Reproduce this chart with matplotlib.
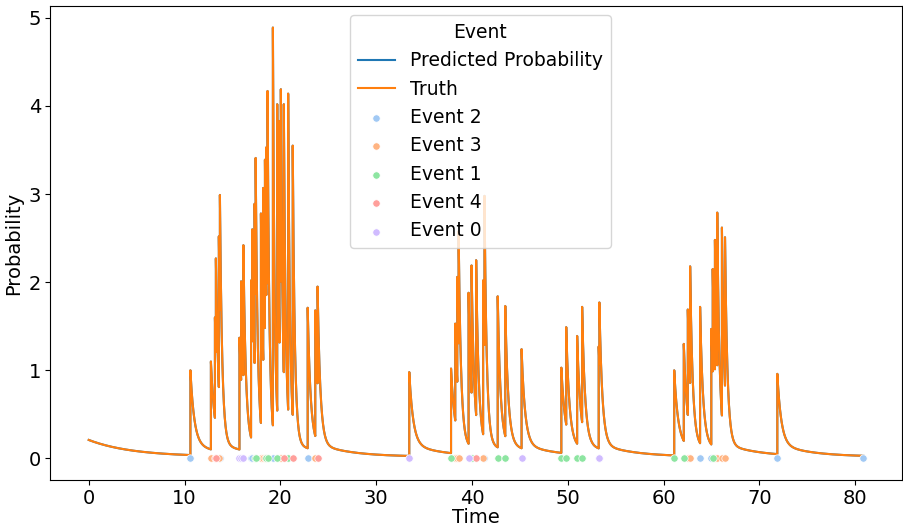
import numpy as np
import matplotlib

matplotlib.use('Agg')
import matplotlib.pyplot as plt
import seaborn as sns

# event times, types and the intensity peak reached right after each event
event_times = [10.61, 12.75, 13.17, 13.27, 13.58, 13.69,
               15.73, 15.90, 16.14, 16.94, 17.07, 17.31, 17.42, 17.97, 18.21, 18.39, 18.53, 18.66,
               19.22, 19.67, 19.91, 20.05, 20.36, 20.81, 21.29, 22.85, 23.64, 23.88,
               33.45, 37.81, 38.25, 38.46, 38.60, 39.64, 39.95, 40.43, 41.16, 41.30, 42.68, 43.47, 45.17,
               49.32, 49.83, 50.97, 51.49, 53.22, 53.29,
               61.10, 62.10, 62.52, 62.76, 63.80, 64.97, 65.12, 65.35, 65.59, 66.08, 66.40,
               71.86, 80.83]
event_types = [2, 3, 4, 4, 3, 2,
               0, 0, 0, 2, 2, 1, 1, 3, 3, 3, 1, 1,
               2, 1, 3, 3, 4, 1, 4, 2, 3, 4,
               0, 1, 3, 3, 3, 0, 1, 4, 3, 2, 1, 1, 0,
               1, 1, 1, 1, 0, 0,
               1, 1, 3, 3, 2, 2, 1, 3, 3, 3, 3,
               2, 2]
peak_values = [1.00, 1.10, 1.60, 2.27, 2.52, 2.99,
               1.37, 2.01, 2.42, 2.02, 2.60, 2.89, 3.41, 2.78, 3.07, 3.39, 3.53, 4.17,
               4.89, 4.02, 3.83, 4.19, 4.02, 4.14, 3.55, 1.71, 1.68, 1.95,
               0.98, 1.02, 1.53, 2.06, 2.58, 1.88, 2.19, 2.25, 2.02, 2.98, 1.84, 1.73, 1.24,
               1.03, 1.49, 1.39, 1.72, 1.27, 1.77,
               1.00, 1.30, 1.69, 2.18, 1.72, 1.47, 2.15, 2.48, 2.79, 2.62, 2.51,
               0.96, 0.02]
start_value = 0.21
floor_value = 0.02
tail_value = 0.15

hue_order = [2, 3, 1, 4, 0]


def decay(peak, dt):
    # fast drop from the peak plus a slow tail
    fast = max(peak - floor_value - tail_value, 0) * np.exp(-2.5 * np.sqrt(peak) * dt)
    slow = min(tail_value, peak - floor_value) * np.exp(-0.3 * dt)
    return floor_value + fast + slow


# build the curve segment by segment between events
ts, vs = [], []
seg = np.linspace(0, event_times[0], 200)
ts.append(seg)
vs.append(floor_value + (start_value - floor_value) * np.exp(-0.22 * seg))
for i in range(len(event_times) - 1):
    seg = np.linspace(event_times[i], event_times[i + 1], 200)
    ts.append(seg)
    vs.append(decay(peak_values[i], seg - event_times[i]))
t_all = np.concatenate(ts)
v_all = np.concatenate(vs)

fig = plt.figure(figsize=(9.04, 5.29), dpi=100)
ax = fig.add_axes([50 / 904, 49 / 529, 852 / 904, 474 / 529])

palette = sns.color_palette('pastel')
type_colors = {t: palette[k] for k, t in enumerate(hue_order)}

ax.plot(t_all, v_all, color='C0', lw=1.5, label='Predicted Probability')
ax.plot(t_all, v_all, color='C1', lw=1.5, label='Truth')

ev_t = np.array(event_times)
ev_k = np.array(event_types)
for t in hue_order:
    mask = ev_k == t
    ax.scatter(ev_t[mask], np.zeros(mask.sum()), s=28, color=type_colors[t],
               edgecolor='white', linewidth=0.5, zorder=3, label=f'Event {t}')

ax.set_xlabel('Time', fontsize=14, labelpad=0)
ax.set_ylabel('Probability', fontsize=14, labelpad=4)
ax.tick_params(labelsize=14, pad=3)
ax.set_xticks([0, 10, 20, 30, 40, 50, 60, 70, 80])
ax.set_yticks([0, 1, 2, 3, 4, 5])

ax.legend(title='Event', loc='upper center', fontsize=13.5, title_fontsize=13.5,
          bbox_to_anchor=(0.505, 1.0))

plt.savefig('out.png', dpi=100)
plt.close(fig)
